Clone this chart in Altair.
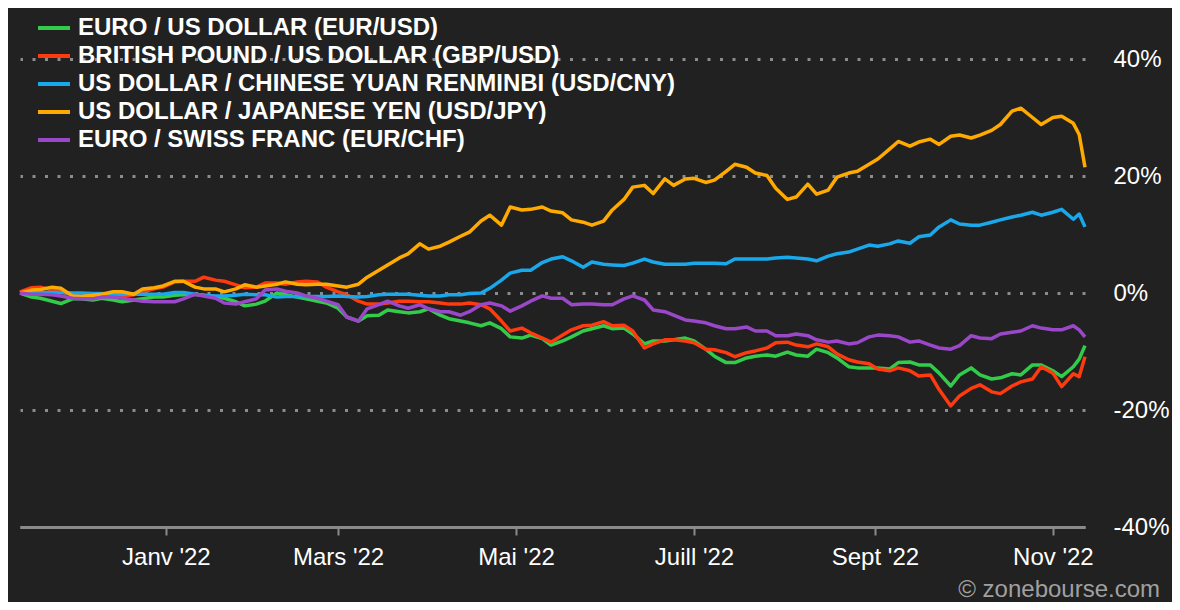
import json
import altair as alt
import pandas as pd

# ---- data -------------------------------------------------------------
# Friday and Tuesday observations, plus the last two days of the period
fri_dates = [d.strftime("%Y-%m-%d") for d in pd.date_range("2021-11-12", periods=52, freq="7D")]
tue_dates = [d.strftime("%Y-%m-%d") for d in pd.date_range("2021-11-16", periods=52, freq="7D")]
tail_dates = ["2022-11-10", "2022-11-12"]

names = [
    "EURO / US DOLLAR (EUR/USD)",
    "BRITISH POUND / US DOLLAR (GBP/USD)",
    "US DOLLAR / CHINESE YUAN RENMINBI (USD/CNY)",
    "US DOLLAR / JAPANESE YEN (USD/JPY)",
    "EURO / SWISS FRANC (EUR/CHF)",
]
colors = ["#33cc4a", "#ff3a0e", "#19a8ec", "#ffaa00", "#9b47c9"]

eur_usd_fri = [0.0, -0.9, -1.8, -1.0, -0.9, -1.5, -1.0, -0.7, -0.3, -0.4,
               -0.9, -2.2, -1.4, -0.3, -1.0, -1.7, -4.1, -3.9, -2.9, -3.4,
               -2.7, -4.4, -5.1, -5.1, -7.5, -7.2, -8.9, -7.5, -6.1, -6.1,
               -7.0, -8.2, -8.0, -8.2, -10.8, -11.9, -10.8, -10.8, -10.6, -9.6,
               -11.1, -12.8, -12.8, -11.9, -12.3, -13.7, -14.0, -14.0, -14.5, -14.0,
               -12.3, -14.3]
eur_usd_tue = [-0.7, -1.4, -1.0, -1.2, -1.2, -1.2, -0.7, -0.4, -0.2, -0.7,
               -1.5, -1.9, 0.0, -0.7, -1.4, -2.6, -4.8, -3.8, -3.2, -3.2,
               -3.8, -4.8, -5.6, -6.1, -7.7, -7.8, -8.2, -6.5, -5.6, -6.0,
               -8.7, -8.2, -7.7, -9.6, -11.9, -11.1, -10.6, -10.1, -10.8, -10.2,
               -12.6, -12.8, -13.0, -11.8, -12.3, -15.9, -12.8, -14.7, -13.8, -12.3,
               -13.3, -12.6]
eur_usd_tail = [-11.3, -9.0]

gbp_usd_fri = [0.2, 1.0, 0.2, -0.6, -0.5, -0.5, 0.2, 1.0, 2.0, 2.7,
               2.0, 0.9, 1.7, 1.5, 2.0, 1.0, -0.3, -1.9, -1.7, -1.4,
               -1.5, -1.9, -1.7, -2.7, -6.5, -6.8, -8.4, -6.3, -5.5, -5.6,
               -6.5, -8.7, -8.0, -8.5, -9.7, -10.9, -9.9, -8.5, -8.9, -8.7,
               -10.4, -11.8, -13.0, -12.8, -14.2, -16.5, -17.6, -15.7, -17.2, -15.2,
               -12.6, -16.0]
gbp_usd_tue = [0.9, 0.5, -0.3, -0.6, -0.5, -0.3, 0.7, 1.9, 2.0, 2.2,
               1.4, 1.0, 1.7, 1.9, 1.9, 0.2, -1.4, -1.9, -1.4, -1.5,
               -1.7, -1.9, -2.0, -4.8, -6.0, -7.7, -7.2, -5.6, -4.9, -5.5,
               -9.4, -8.0, -8.2, -9.6, -10.2, -10.2, -9.4, -8.4, -9.2, -9.2,
               -11.4, -12.1, -13.3, -13.3, -14.0, -19.3, -16.3, -16.9, -15.9, -14.7,
               -13.7, -13.8]
gbp_usd_tail = [-14.3, -10.9]

usd_cny_fri = [0.0, 0.1, 0.1, 0.0, -0.1, -0.2, -0.2, -0.2, 0.1, -0.4,
               -0.5, -0.2, -0.3, -0.6, -0.6, -0.6, -0.6, -0.6, -0.2, -0.2,
               -0.5, -0.3, -0.1, 0.8, 3.4, 3.9, 5.8, 5.5, 5.3, 4.8,
               5.1, 5.3, 4.9, 5.1, 5.1, 5.8, 5.8, 6.0, 6.0, 5.5,
               6.7, 7.5, 8.0, 8.9, 9.6, 11.3, 11.8, 11.6, 12.5, 13.3,
               13.3, 14.3]
usd_cny_tue = [0.1, 0.1, 0.0, -0.1, -0.2, -0.2, -0.2, 0.1, -0.2, -0.5,
               -0.4, -0.3, -0.7, -0.6, -0.6, -0.5, -0.7, -0.3, -0.2, -0.4,
               -0.5, -0.3, 0.0, 2.2, 3.9, 5.2, 6.2, 4.4, 4.9, 4.7,
               5.8, 4.9, 4.9, 5.1, 5.0, 5.8, 5.8, 6.1, 5.8, 6.3,
               7.0, 8.2, 8.4, 8.5, 9.9, 12.5, 11.6, 12.1, 13.0, 13.8,
               13.8, 12.6]
usd_cny_tail = [13.5, 11.3]

usd_jpy_fri = [0.0, 0.6, 0.8, -0.6, -0.2, 0.2, 0.7, 1.2, 2.0, 0.7,
               0.2, 1.4, 1.2, 1.9, 1.4, 1.5, 1.0, 2.7, 4.8, 6.7,
               7.5, 8.7, 10.4, 13.3, 14.7, 14.3, 14.0, 12.5, 11.6, 14.2,
               18.1, 17.0, 18.4, 19.6, 19.3, 22.0, 20.5, 17.9, 16.4, 16.9,
               19.8, 20.8, 22.9, 25.9, 25.8, 25.4, 27.0, 27.0, 28.8, 31.6,
               28.8, 30.2]
usd_jpy_tue = [0.5, 1.0, -0.5, -0.4, 0.2, -0.2, 0.9, 2.0, 1.0, 0.7,
               0.7, 1.0, 1.5, 1.5, 1.5, 1.2, 1.5, 3.9, 6.0, 8.4,
               8.0, 9.7, 12.3, 11.6, 14.2, 14.7, 13.7, 12.1, 12.3, 16.0,
               18.4, 19.5, 19.5, 18.9, 20.8, 21.5, 20.1, 16.0, 18.6, 17.6,
               20.5, 22.0, 24.6, 25.1, 26.3, 26.8, 26.5, 27.8, 31.1, 30.0,
               30.0, 29.0]
usd_jpy_tail = [27.1, 21.5]

eur_chf_fri = [0.0, -0.2, -0.5, -1.0, -0.7, -0.9, -1.4, -1.5, -1.0, -0.5,
               -1.7, -1.5, 0.5, 0.3, -0.5, -1.4, -4.1, -2.7, -1.4, -2.6,
               -2.7, -3.2, -3.2, -1.7, -3.1, -1.4, -0.9, -2.0, -1.9, -2.0,
               -0.5, -2.9, -3.8, -4.8, -5.6, -6.1, -6.5, -7.3, -7.0, -8.0,
               -8.2, -8.5, -7.2, -7.5, -8.2, -9.4, -9.0, -7.7, -7.0, -6.5,
               -6.0, -6.3]
eur_chf_tue = [-0.2, -0.3, -0.9, -1.0, -0.7, -1.2, -1.5, -1.5, -0.2, -0.9,
               -1.9, -1.0, 0.7, 0.0, -0.9, -2.0, -4.8, -2.0, -2.2, -2.0,
               -3.2, -3.8, -2.0, -2.2, -2.2, -0.5, -0.9, -1.9, -2.0, -1.0,
               -1.2, -3.2, -4.6, -5.1, -6.1, -5.8, -6.5, -7.3, -7.3, -8.4,
               -8.7, -7.5, -7.3, -8.4, -8.9, -9.6, -7.3, -7.8, -6.7, -5.6,
               -6.3, -5.6]
eur_chf_tail = [-6.3, -7.5]

series_parts = [
    (eur_usd_fri, eur_usd_tue, eur_usd_tail),
    (gbp_usd_fri, gbp_usd_tue, gbp_usd_tail),
    (usd_cny_fri, usd_cny_tue, usd_cny_tail),
    (usd_jpy_fri, usd_jpy_tue, usd_jpy_tail),
    (eur_chf_fri, eur_chf_tue, eur_chf_tail),
]

tick_dates = [(2022, 1, 1), (2022, 3, 1), (2022, 5, 1), (2022, 7, 1), (2022, 9, 1), (2022, 11, 1)]
tick_labels = ["Janv '22", "Mars '22", "Mai '22", "Juill '22", "Sept '22", "Nov '22"]
tick_months = [m - 1 for (_, m, _) in tick_dates]
y_ticks = [-40, -20, 0, 20, 40]

rows = []
for i, (name, (fri, tue, tail)) in enumerate(zip(names, series_parts)):
    assert len(fri) == len(fri_dates) and len(tue) == len(tue_dates) and len(tail) == len(tail_dates)
    for dlist, vlist in ((fri_dates, fri), (tue_dates, tue), (tail_dates, tail)):
        for d, v in zip(dlist, vlist):
            rows.append({"date": d + "T00:00:00", "series": name, "value": v, "order": i})
df = pd.DataFrame(rows).sort_values(["order", "date"]).drop(columns="order").reset_index(drop=True)

FONT = "Liberation Sans"
label_expr = "%s[indexof(%s, month(datum.value))]" % (json.dumps(tick_labels), json.dumps(tick_months))

chart = alt.Chart(df).mark_line(strokeWidth=3.5, strokeJoin="round").encode(
    x=alt.X(
        "date:T",
        scale=alt.Scale(domain=[alt.DateTime(year=2021, month=11, date=12),
                                alt.DateTime(year=2022, month=11, date=12)]),
        axis=alt.Axis(
            title=None,
            grid=False,
            values=[alt.DateTime(year=y, month=m, date=d) for (y, m, d) in tick_dates],
            labelExpr=label_expr,
            labelFontSize=24,
            labelFont=FONT,
            labelColor="#ffffff",
            labelPadding=10,
            labelFlush=False,
            domainColor="#8a8a8a",
            domainWidth=3,
            tickColor="#8a8a8a",
            tickWidth=2,
            tickSize=8,
        ),
    ),
    y=alt.Y(
        "value:Q",
        scale=alt.Scale(domain=[-40, 40], nice=False),
        axis=alt.Axis(
            title=None,
            orient="right",
            values=y_ticks,
            labelExpr="datum.value + '%'",
            labelFontSize=24,
            labelFont=FONT,
            labelColor="#ffffff",
            labelPadding=28,
            ticks=False,
            domain=False,
            grid=True,
            gridColor="#8c8c8c",
            gridWidth=3,
            gridDash=[3, 9.5],
        ),
    ),
    color=alt.Color(
        "series:N",
        sort=names,
        scale=alt.Scale(domain=names, range=colors),
        legend=alt.Legend(
            title=None,
            orient="none",
            legendX=18,
            legendY=-47,
            symbolType="M-1.143,0H1.143",
            symbolSize=784,
            symbolStrokeWidth=4,
            labelFontSize=24,
            labelFontWeight="bold",
            labelFont=FONT,
            labelColor="#ffffff",
            labelOffset=8,
            labelLimit=0,
            rowPadding=0,
        ),
    ),
).properties(
    width=1065,
    height=468,
    autosize=alt.AutoSizeParams(type="none"),
    padding={"left": 12, "top": 51, "right": 87, "bottom": 75},
    title=alt.TitleParams(
        "© zonebourse.com",
        orient="bottom",
        anchor="end",
        frame="bounds",
        fontSize=24,
        fontWeight="normal",
        font=FONT,
        color="#a0a0a0",
        offset=9,
        dx=-9,
    ),
).configure(
    background="#212121",
    font=FONT,
).configure_view(
    strokeWidth=0,
)

chart.save("out.html", embed_options={"renderer": "svg", "actions": False})
